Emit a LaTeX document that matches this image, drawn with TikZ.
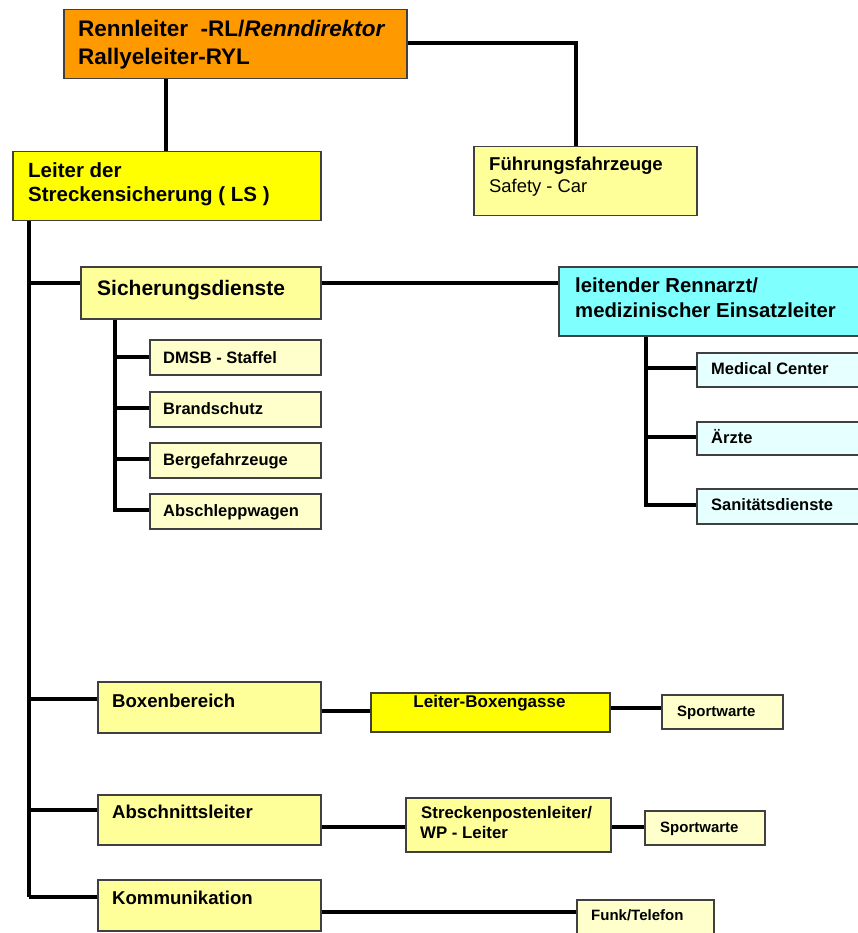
\documentclass[tikz,border=0pt]{standalone}
\usepackage{fontspec}
\setmainfont{Liberation Sans}
\definecolor{orgbox}{HTML}{FF9900}
\definecolor{ylwbox}{HTML}{FFFF00}
\definecolor{ltybox}{HTML}{FFFF99}
\definecolor{paleybox}{HTML}{FFFFCC}
\definecolor{cyanbox}{HTML}{80FFFF}
\definecolor{palecbox}{HTML}{E6FFFF}
\definecolor{boxline}{HTML}{404040}
\tikzset{
  box/.style={draw=boxline, line width=1.5pt, rectangle, inner sep=0pt, anchor=north west},
  conn/.style={draw=black, line width=3.5pt},
  txt/.style={anchor=base west, inner sep=0pt, text=black},
}
\newcommand{\fs}[1]{\fontsize{#1}{#1}\selectfont}
\begin{document}
\begin{tikzpicture}[x=1pt,y=-1pt]
\useasboundingbox (0,0) rectangle (857,933);
% boxes
\node[box, fill=orgbox, minimum width=343, minimum height=69] (rl) at (63,9) {};
\node[box, fill=ylwbox, minimum width=308, minimum height=69] (ls) at (12,151) {};
\node[box, fill=ltybox, minimum width=223, minimum height=69] (ff) at (473,146) {};
\node[box, fill=ltybox, minimum width=240, minimum height=52] (sich) at (80,266) {};
\node[box, fill=cyanbox, minimum width=320, minimum height=69] (arzt) at (558,266) {};
\node[box, fill=paleybox, minimum width=171, minimum height=35] (dmsb) at (149,339) {};
\node[box, fill=paleybox, minimum width=171, minimum height=35] (brand) at (149,391) {};
\node[box, fill=paleybox, minimum width=171, minimum height=35] (berge) at (149,442) {};
\node[box, fill=paleybox, minimum width=171, minimum height=35] (absch) at (149,493) {};
\node[box, fill=palecbox, minimum width=180, minimum height=34] (med) at (696,352) {};
\node[box, fill=palecbox, minimum width=180, minimum height=33] (aerzte) at (696,421) {};
\node[box, fill=palecbox, minimum width=180, minimum height=35] (sani) at (696,488) {};
\node[box, fill=ltybox, minimum width=223, minimum height=51] (boxb) at (97,681) {};
\node[box, fill=ylwbox, minimum width=239, minimum height=39] (lbg) at (370,692) {};
\node[box, fill=paleybox, minimum width=121, minimum height=34] (sw1) at (661,694) {};
\node[box, fill=ltybox, minimum width=223, minimum height=50] (abl) at (97,794) {};
\node[box, fill=ltybox, minimum width=205, minimum height=54] (spl) at (405,797) {};
\node[box, fill=paleybox, minimum width=120, minimum height=34] (sw2) at (644,810) {};
\node[box, fill=ltybox, minimum width=223, minimum height=51] (komm) at (97,879) {};
\node[box, fill=paleybox, minimum width=137, minimum height=50] (funk) at (576,899) {};
% texts
\node[txt, font=\fs{22.5}\bfseries] (rl-t1) at (78,37) {Rennleiter\ \ -RL/\textit{Renndirektor}};
\node[txt, font=\fs{22.5}\bfseries] (rl-t2) at (78,65) {Rallyeleiter-RYL};
\node[txt, font=\fs{20.5}\bfseries] (ls-t1) at (28,178) {Leiter der};
\node[txt, font=\fs{20.5}\bfseries] (ls-t2) at (28,202) {Streckensicherung ( LS )};
\node[txt, font=\fs{18.6}\bfseries] (ff-t1) at (489,171) {Führungsfahrzeuge};
\node[txt, font=\fs{18.4}] (ff-t2) at (489,193) {Safety - Car};
\node[txt, font=\fs{21}\bfseries] (sich-t) at (97,295) {Sicherungsdienste};
\node[txt, font=\fs{20.3}\bfseries] (arzt-t1) at (575,292) {leitender Rennarzt/};
\node[txt, font=\fs{20.3}\bfseries] (arzt-t2) at (575,317) {medizinischer Einsatzleiter};
\node[txt, font=\fs{16.5}\bfseries] (dmsb-t) at (163,363) {DMSB - Staffel};
\node[txt, font=\fs{16.5}\bfseries] (brand-t) at (163,414) {Brandschutz};
\node[txt, font=\fs{16.5}\bfseries] (berge-t) at (163,465) {Bergefahrzeuge};
\node[txt, font=\fs{16.5}\bfseries] (absch-t) at (163,516) {Abschleppwagen};
\node[txt, font=\fs{16.5}\bfseries] (med-t) at (711,374) {Medical Center};
\node[txt, font=\fs{16.5}\bfseries] (aerzte-t) at (711,443) {Ärzte};
\node[txt, font=\fs{16.5}\bfseries] (sani-t) at (711,510) {Sanitätsdienste};
\node[txt, font=\fs{18.6}\bfseries] (boxb-t) at (112,707) {Boxenbereich};
\node[txt, font=\fs{17}\bfseries, anchor=base] (lbg-t) at (489.5,707) {Leiter-Boxengasse};
\node[txt, font=\fs{15}\bfseries] (sw1-t) at (677,716) {Sportwarte};
\node[txt, font=\fs{18.6}\bfseries] (abl-t) at (112,818) {Abschnittsleiter};
\node[txt, font=\fs{16.8}\bfseries] (spl-t1) at (421,818) {Streckenpostenleiter/};
\node[txt, font=\fs{16.8}\bfseries] (spl-t2) at (420,838) {WP - Leiter};
\node[txt, font=\fs{15}\bfseries] (sw2-t) at (660,832) {Sportwarte};
\node[txt, font=\fs{18.6}\bfseries] (komm-t) at (112,904) {Kommunikation};
\node[txt, font=\fs{15}\bfseries] (funk-t) at (591,920) {Funk/Telefon};
% connectors
\coordinate (trunkend) at (29,897);
\draw[conn] (rl.south -| 166,0) -- (ls.north -| 166,0);
\draw[conn] (rl.east |- 0,43) -| (ff.north -| 576,0);
\draw[conn] (ls.south -| 29,0) -- (trunkend);
\draw[conn] (sich.west |- 0,283) -- (29,283);
\draw[conn] (sich.east |- 0,283) -- (arzt.west |- 0,283);
\draw[conn] (boxb.west |- 0,699) -- (29,699);
\draw[conn] (abl.west |- 0,810) -- (29,810);
\draw[conn] (komm.west |- trunkend) -- (trunkend);
% Sicherungsdienste sub
\draw[conn] (sich.south -| 115,0) |- (absch.west |- 0,510);
\draw[conn] (dmsb.west |- 0,357) -- (115,357);
\draw[conn] (brand.west |- 0,408) -- (115,408);
\draw[conn] (berge.west |- 0,459) -- (115,459);
% Rennarzt sub
\draw[conn] (arzt.south -| 646,0) |- (sani.west |- 0,505);
\draw[conn] (med.west |- 0,368) -- (646,368);
\draw[conn] (aerzte.west |- 0,437) -- (646,437);
% bottom rows
\draw[conn] (boxb.east |- 0,711) -- (lbg.west |- 0,711);
\draw[conn] (lbg.east |- 0,708) -- (sw1.west |- 0,708);
\draw[conn] (abl.east |- 0,827) -- (spl.west |- 0,827);
\draw[conn] (spl.east |- 0,827) -- (sw2.west |- 0,827);
\draw[conn] (komm.east |- 0,912) -- (funk.west |- 0,912);
\end{tikzpicture}
\end{document}
